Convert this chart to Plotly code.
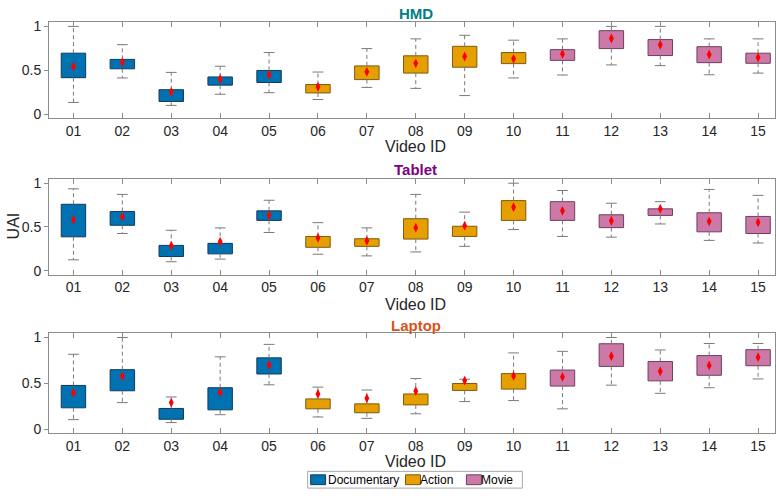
import plotly.graph_objects as go

video_ids = ["01", "02", "03", "04", "05", "06", "07", "08", "09", "10", "11", "12", "13", "14", "15"]
genres = ["Documentary"] * 5 + ["Action"] * 5 + ["Movie"] * 5
genre_order = ["Documentary", "Action", "Movie"]
genre_fill = {"Documentary": "#0072B2", "Action": "#E69F00", "Movie": "#CC79A7"}
genre_edge = {"Documentary": "#123a5c", "Action": "#7d5a10", "Movie": "#6e3f60"}

devices = ["HMD", "Tablet", "Laptop"]
device_colors = {"HMD": "#008080", "Tablet": "#800080", "Laptop": "#D95319"}

# HMD
hmd_wlo = [0.134, 0.413, 0.100, 0.227, 0.245, 0.167, 0.305, 0.294, 0.212, 0.413, 0.446, 0.561, 0.553, 0.449, 0.468]
hmd_q1 = [0.416, 0.517, 0.145, 0.331, 0.361, 0.242, 0.394, 0.468, 0.535, 0.576, 0.613, 0.747, 0.668, 0.587, 0.580]
hmd_q3 = [0.695, 0.624, 0.279, 0.424, 0.498, 0.338, 0.550, 0.665, 0.773, 0.702, 0.735, 0.951, 0.850, 0.769, 0.695]
hmd_whi = [1.000, 0.792, 0.476, 0.546, 0.702, 0.480, 0.747, 0.858, 0.899, 0.843, 0.858, 1.000, 1.000, 0.858, 0.858]
hmd_mean = [0.543, 0.591, 0.253, 0.401, 0.450, 0.312, 0.483, 0.579, 0.657, 0.631, 0.687, 0.862, 0.791, 0.680, 0.646]

# Tablet
tab_wlo = [0.124, 0.425, 0.102, 0.132, 0.436, 0.188, 0.169, 0.214, 0.278, 0.470, 0.391, 0.383, 0.534, 0.346, 0.316]
tab_q1 = [0.387, 0.519, 0.162, 0.192, 0.575, 0.267, 0.278, 0.361, 0.391, 0.575, 0.575, 0.492, 0.632, 0.444, 0.425]
tab_q3 = [0.759, 0.677, 0.289, 0.312, 0.684, 0.391, 0.365, 0.594, 0.508, 0.801, 0.789, 0.639, 0.707, 0.662, 0.620]
tab_whi = [0.936, 0.872, 0.462, 0.489, 0.805, 0.549, 0.489, 0.872, 0.669, 1.000, 0.917, 0.771, 0.789, 0.929, 0.861]
tab_mean = [0.583, 0.617, 0.286, 0.331, 0.635, 0.376, 0.342, 0.492, 0.515, 0.726, 0.684, 0.571, 0.707, 0.564, 0.553]

# Laptop
lap_wlo = [0.104, 0.290, 0.072, 0.158, 0.484, 0.133, 0.118, 0.168, 0.301, 0.312, 0.222, 0.480, 0.391, 0.452, 0.548]
lap_q1 = [0.233, 0.419, 0.108, 0.211, 0.602, 0.222, 0.179, 0.265, 0.423, 0.437, 0.470, 0.685, 0.527, 0.588, 0.692]
lap_q3 = [0.477, 0.649, 0.226, 0.452, 0.778, 0.330, 0.276, 0.384, 0.498, 0.606, 0.645, 0.932, 0.738, 0.803, 0.867]
lap_whi = [0.817, 1.000, 0.351, 0.789, 0.925, 0.459, 0.427, 0.552, 0.545, 0.832, 0.849, 1.000, 0.864, 0.935, 0.935]
lap_mean = [0.398, 0.577, 0.290, 0.401, 0.699, 0.384, 0.337, 0.416, 0.530, 0.581, 0.570, 0.796, 0.631, 0.695, 0.785]

stats = {
    "HMD": (hmd_wlo, hmd_q1, hmd_q3, hmd_whi, hmd_mean),
    "Tablet": (tab_wlo, tab_q1, tab_q3, tab_whi, tab_mean),
    "Laptop": (lap_wlo, lap_q1, lap_q3, lap_whi, lap_mean),
}

W, H = 776, 498
ML = 49
PW = W - ML
FONT = "Liberation Sans"
panel_px = [(18.3, 116.0), (177.7, 275.0), (334.3, 436.3)]
title_px = [10, 168.5, 327]
xlabel_px = [145, 305, 465]


def px_x(v):
    return (v - ML) / PW


def px_y(v):
    return 1 - v / H


fig = go.Figure()
pos = list(range(1, len(video_ids) + 1))
cap = 0.11
box_w = 0.5

for k, dev in enumerate(devices):
    wlo, q1, q3, whi, mean = stats[dev]
    xa = "x" if k == 0 else f"x{k+1}"
    ya = "y" if k == 0 else f"y{k+1}"
    wx, wy = [], []
    cx, cy = [], []
    for i, p in enumerate(pos):
        wx += [p, p, None, p, p, None]
        wy += [q3[i], whi[i], None, q1[i], wlo[i], None]
        cx += [p - cap, p + cap, None, p - cap, p + cap, None]
        cy += [whi[i], whi[i], None, wlo[i], wlo[i], None]
    fig.add_trace(go.Scatter(x=wx, y=wy, mode="lines", xaxis=xa, yaxis=ya,
                             line=dict(color="#7a7a7a", width=1, dash="4px,3px"),
                             showlegend=False, hoverinfo="skip"))
    fig.add_trace(go.Scatter(x=cx, y=cy, mode="lines", xaxis=xa, yaxis=ya,
                             line=dict(color="#7a7a7a", width=1),
                             showlegend=False, hoverinfo="skip"))
    for g in genre_order:
        idx = [i for i in range(len(pos)) if genres[i] == g]
        fig.add_trace(go.Bar(
            x=[pos[i] for i in idx],
            base=[q1[i] for i in idx],
            y=[q3[i] - q1[i] for i in idx],
            width=box_w, name=g, xaxis=xa, yaxis=ya,
            marker=dict(color=genre_fill[g], line=dict(color=genre_edge[g], width=1)),
            showlegend=False, legendgroup=g,
        ))
    fig.add_trace(go.Scatter(x=pos, y=mean, mode="markers", xaxis=xa, yaxis=ya,
                             marker=dict(symbol="diamond-tall", size=7, color="#FF0000",
                                         line=dict(width=0)),
                             showlegend=False))

layout = dict(
    width=W, height=H,
    margin=dict(l=ML, r=0, t=0, b=0),
    paper_bgcolor="white", plot_bgcolor="white",
    barmode="overlay", showlegend=False,
    font=dict(family=FONT, size=14, color="#262626"),
    annotations=[], shapes=[],
)

for k, dev in enumerate(devices):
    top, bot = panel_px[k]
    xkey = "xaxis" if k == 0 else f"xaxis{k+1}"
    ykey = "yaxis" if k == 0 else f"yaxis{k+1}"
    yanchor = "y" if k == 0 else f"y{k+1}"
    xanchor = "x" if k == 0 else f"x{k+1}"
    layout[xkey] = dict(
        domain=[0, 1], anchor=yanchor, range=[0.5, 15.346],
        tickmode="array", tickvals=pos, ticktext=video_ids,
        ticks="inside", ticklen=5, tickcolor="#8c8c8c", showline=True, linecolor="#8c8c8c",
        linewidth=1, mirror="ticks", showgrid=False, zeroline=False,
        tickfont=dict(size=14, color="#262626"), ticklabelstandoff=0,
    )
    layout[ykey] = dict(
        domain=[px_y(bot), px_y(top)], anchor=xanchor, range=[-0.045, 1.05],
        tickmode="array", tickvals=[0, 0.5, 1], ticktext=["0", "0.5", "1"],
        ticks="outside", ticklen=4, tickcolor="#8c8c8c", showline=True, linecolor="#8c8c8c",
        linewidth=1, mirror=True, showgrid=False, zeroline=False,
        tickfont=dict(size=14, color="#262626"),
    )
    layout["annotations"].append(dict(
        x=8, xref=xanchor, y=px_y(title_px[k]), yref="paper", text=f"<b>{dev}</b>",
        showarrow=False, font=dict(size=15, color=device_colors[dev], family=FONT),
        xanchor="center", yanchor="middle"))
    layout["annotations"].append(dict(
        x=8, xref=xanchor, y=px_y(xlabel_px[k]), yref="paper", text="Video ID",
        showarrow=False, font=dict(size=16, color="#262626", family=FONT),
        xanchor="center", yanchor="middle"))

layout["annotations"].append(dict(
    x=px_x(13), xref="paper", y=px_y(226), yref="paper", text="UAI", textangle=-90,
    showarrow=False, font=dict(size=16, color="#262626", family=FONT),
    xanchor="center", yanchor="middle"))

# legend box (drawn as shapes + text)
leg_box = (308, 475, 523, 492)
leg_swatch_x = [311, 406, 467]
leg_text_x = [328, 421, 482]
layout["shapes"].append(dict(
    type="rect", xref="paper", yref="paper",
    x0=px_x(leg_box[0]), x1=px_x(leg_box[2]), y0=px_y(leg_box[3]), y1=px_y(leg_box[1]),
    line=dict(color="#a8a8a8", width=1), fillcolor="white", layer="above"))
for j, g in enumerate(genre_order):
    layout["shapes"].append(dict(
        type="rect", xref="paper", yref="paper",
        x0=px_x(leg_swatch_x[j]), x1=px_x(leg_swatch_x[j] + 15), y0=px_y(488.5), y1=px_y(478.5),
        line=dict(color=genre_edge[g], width=1), fillcolor=genre_fill[g], layer="above"))
    layout["annotations"].append(dict(
        x=px_x(leg_text_x[j]), xref="paper", y=px_y(484), yref="paper", text=g,
        showarrow=False, font=dict(size=12, color="#000000", family=FONT),
        xanchor="left", yanchor="middle", xshift=-2))

fig.update_layout(**layout)
fig.write_html("out.html", config={"displayModeBar": False},
               post_script="document.body.style.margin='0';document.body.style.overflow='hidden';")
